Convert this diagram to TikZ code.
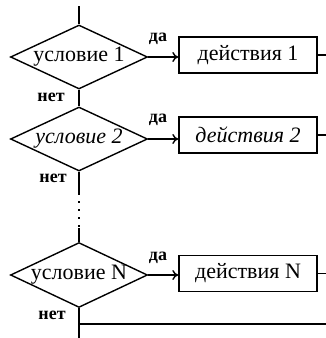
\documentclass[tikz,border=0pt]{standalone}
\usepackage{fontspec}
\setmainfont{Liberation Serif}
\usetikzlibrary{shapes.geometric,arrows.meta}
\begin{document}
\begin{tikzpicture}[x=0.5pt,y=-0.5pt,
 ln/.style={line width=0.7pt},
 cond/.style={diamond,draw,line width=0.7pt,minimum width=68.5pt,minimum height=32pt,inner sep=0pt,shape aspect=2.1,font=\fontsize{11}{13}\selectfont},
 act/.style={rectangle,draw,line width=0.7pt,minimum width=69pt,minimum height=18pt,inner sep=0pt,font=\fontsize{11}{13}\selectfont},
 lbl/.style={font=\bfseries\fontsize{9}{10}\selectfont,inner sep=0pt},
 arr/.style={line width=0.7pt,-{To[length=3pt,width=5pt]}}]
\useasboundingbox (0,0) rectangle (326,338);
\node[cond] (d1) at (79,57) {условие 1};
\node[act] (b1) at (248,55) {действия 1};
\node[cond] (d2) at (79,139) {\itshape условие 2};
\node[act] (b2) at (248,135) {\itshape действия 2};
\node[cond] (d3) at (79,275) {условие N};
\node[act] (b3) at (248,273.5) {действия N};
\coordinate (top) at (79,6);
\coordinate (r1) at (326,55);
\coordinate (r2) at (326,135);
\coordinate (r3) at (326,273.5);
\coordinate (dotA) at (79,193);
\coordinate (dotB) at (79,228);
\coordinate (bot) at (79,338);
\coordinate (junc) at (79,324);
\coordinate (rr) at (326,324);
\node[lbl] (y1) at (158,39) {да};
\node[lbl] (y2) at (158,120) {да};
\node[lbl] (y3) at (158,258) {да};
\node[lbl] (n1) at (51,97) {нет};
\node[lbl] (n2) at (53,178) {нет};
\node[lbl] (n3) at (52,315) {нет};
\draw[ln] (top) -- (d1.north);
\draw[arr] (d1.east) -- (d1.east -| b1.west);
\draw[arr] (d2.east) -- (d2.east -| b2.west);
\draw[arr] (d3.east) -- (d3.east -| b3.west);
\draw[ln] (b1.east) -- (r1);
\draw[ln] (b2.east) -- (r2);
\draw[ln] (b3.east) -- (r3);
\draw[ln] (d1.south) -- (d2.north);
\draw[ln] (d2.south) -- (dotA);
\draw[ln,dash pattern=on 1pt off 3pt] (dotA) -- (dotB);
\draw[ln] (dotB) -- (d3.north);
\draw[ln] (d3.south) -- (bot);
\draw[ln] (junc) -- (rr);
\end{tikzpicture}
\end{document}
